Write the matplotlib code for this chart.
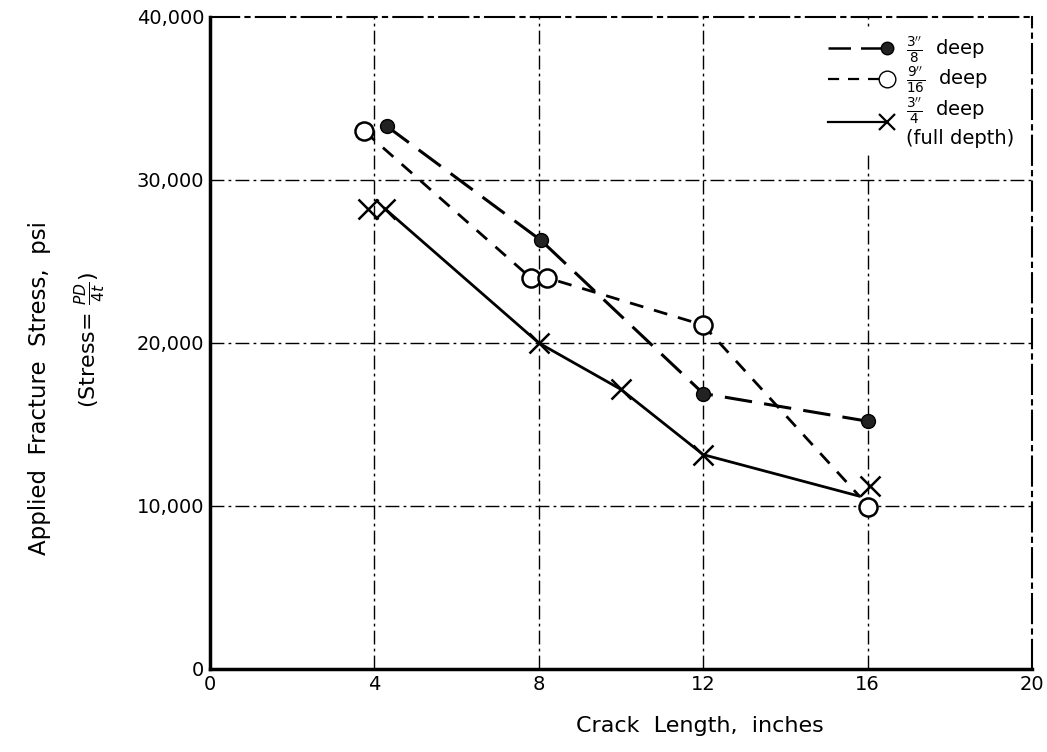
import matplotlib
matplotlib.use("Agg")
import matplotlib.pyplot as plt
from matplotlib.lines import Line2D
from matplotlib.legend_handler import HandlerLine2D

# ---- data ----
x_ticks = [0, 4, 8, 12, 16, 20]
y_ticks = [0, 10000, 20000, 30000, 40000]
y_tick_labels = ["0", "10,000", "20,000", "30,000", "40,000"]

# 3/8" deep (filled circles, long dashes)
x_38 = [4.3, 8.05, 12.0, 16.0]
y_38 = [33300, 26300, 16900, 15200]

# 9/16" deep (open circles, short dashes)
x_916 = [3.75, 7.8, 8.2, 12.0, 16.0]
y_916 = [33000, 24000, 24000, 21100, 9950]
line_916_x = [3.75, 7.8, 8.2, 12.0, 15.8]
line_916_y = [33000, 24000, 24000, 21100, 10600]

# 3/4" deep, full depth (crosses, solid)
x_34 = [3.85, 4.25, 8.0, 10.0, 12.0, 16.05]
y_34 = [28250, 28250, 20000, 17150, 13150, 11250]
line_34_x = [4.25, 8.0, 10.0, 12.0, 15.8]
line_34_y = [28250, 20000, 17150, 13150, 10600]

labels = [r'$\frac{3^{\prime\prime}}{8}$  deep',
          r'$\frac{9^{\prime\prime}}{16}$  deep',
          r'$\frac{3^{\prime\prime}}{4}$  deep' + '\n(full depth)']


class HandlerEndMarker(HandlerLine2D):
    def create_artists(self, legend, orig_handle, xdescent, ydescent,
                       width, height, fontsize, trans):
        arts = super().create_artists(legend, orig_handle, xdescent, ydescent,
                                      width, height, fontsize, trans)
        for a in arts:
            xd = a.get_xdata()
            if len(xd) == 3:
                a.set_markevery([2])
        return arts


plt.rcParams['font.family'] = ['DejaVu Sans']
fig = plt.figure(figsize=(10.47, 7.52), dpi=100)
ax = fig.add_axes([0.2006, 0.1104, 0.7851, 0.867])

# grid
for xv in x_ticks[1:-1]:
    ax.axvline(xv, color='black', lw=1.0, ls=(0, (10, 3, 2, 3)), zorder=1)
for yv in y_ticks[1:-1]:
    ax.axhline(yv, color='black', lw=1.0, ls=(0, (10, 3, 2, 3)), zorder=1)

ls38 = (0, (9, 4))
ls916 = (0, (5, 4))
ax.plot(x_38, y_38, color='black', lw=2.2, ls=ls38, zorder=3)
ax.plot(x_38, y_38, ls='none', marker='o', ms=10, mfc='#222222', mec='black', zorder=4)
ax.plot(line_916_x, line_916_y, color='black', lw=2.0, ls=ls916, zorder=3)
ax.plot(x_916, y_916, ls='none', marker='o', ms=13, mfc='white', mec='black', mew=1.8, zorder=4)
ax.plot(line_34_x, line_34_y, color='black', lw=2.0, ls='-', zorder=3)
ax.plot(x_34, y_34, ls='none', marker='x', ms=14, mec='black', mew=1.8, zorder=4)

ax.set_xlim(0, 20)
ax.set_ylim(0, 40000)
ax.set_xticks(x_ticks)
ax.set_xticklabels([str(v) for v in x_ticks])
ax.set_yticks(y_ticks)
ax.set_yticklabels(y_tick_labels)
ax.tick_params(length=0, labelsize=14, pad=4)

for s in ['left', 'bottom']:
    ax.spines[s].set_linewidth(2.5)
for s in ['top', 'right']:
    ax.spines[s].set_linewidth(1.5)
    ax.spines[s].set_linestyle((0, (14, 3, 2, 3)))

fig.text(700 / 1047, 1 - 726 / 752, 'Crack  Length,  inches', fontsize=16,
         ha='center', va='center')
fig.text(40 / 1047, 1 - 388 / 752, 'Applied  Fracture  Stress,  psi', fontsize=16.5,
         rotation=90, ha='center', va='center')
fig.text(90 / 1047, 1 - 340 / 752, r'(Stress= $\frac{PD}{4t}$)', fontsize=16,
         rotation=90, ha='center', va='center')

handles = [
    Line2D([], [], color='black', lw=1.8, ls=ls38, marker='o', ms=9,
           mfc='#222222', mec='black'),
    Line2D([], [], color='black', lw=1.6, ls=ls916, marker='o', ms=12,
           mfc='white', mec='black'),
    Line2D([], [], color='black', lw=1.6, ls='-', marker='x', ms=12,
           mec='black', mew=1.6),
]
leg = ax.legend(handles, labels, loc='upper right', bbox_to_anchor=(0.995, 0.995),
                fontsize=14, handlelength=3.0, frameon=True, framealpha=1,
                edgecolor='none', facecolor='white', borderpad=0.2,
                labelspacing=0.0, handletextpad=1.0, numpoints=1,
                handler_map={Line2D: HandlerEndMarker()})
leg.set_zorder(5)

fig.savefig('out.png', dpi=100)
